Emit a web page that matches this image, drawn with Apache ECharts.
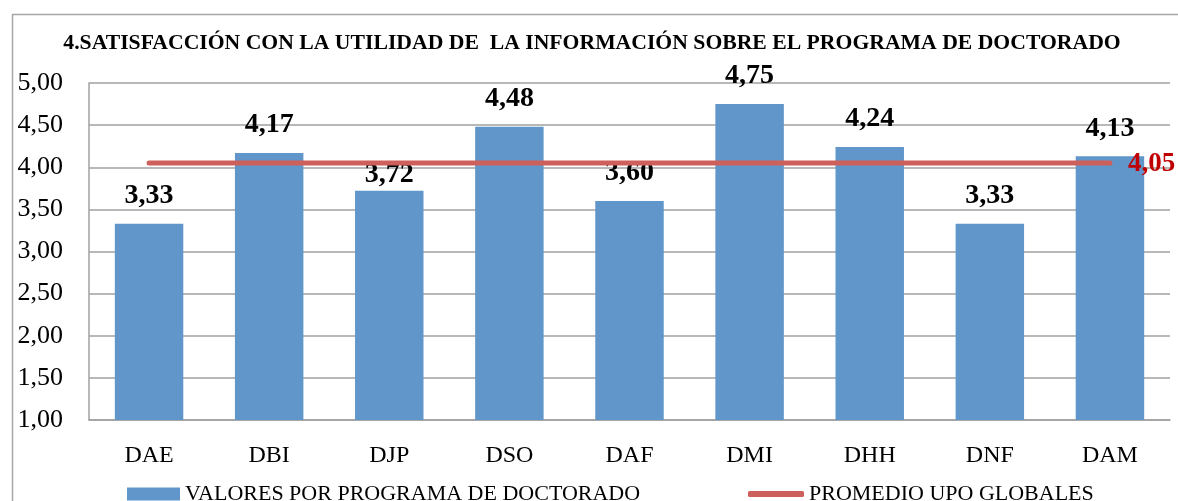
<!DOCTYPE html>
<html><head><meta charset="utf-8">
<script src="https://cdn.jsdelivr.net/npm/echarts@6/dist/echarts.min.js"></script>
<style>html,body{margin:0;padding:0;background:#fff}#c{width:1178px;height:501px}</style>
</head><body><div id="c"></div>
<script>
const categories = ['DAE','DBI','DJP','DSO','DAF','DMI','DHH','DNF','DAM'];
const programValues = [3.33, 4.17, 3.72, 4.48, 3.60, 4.75, 4.24, 3.33, 4.13];
const globalAverage = [4.05, 4.05, 4.05, 4.05, 4.05, 4.05, 4.05, 4.05, 4.05];
const yTicks = {min: 1, max: 5, interval: 0.5};

const fmt = v => v.toFixed(2).replace('.', ',');
const serif = '"Liberation Serif", "DejaVu Serif", serif';
// label of the DJP bar sits closer to the bar (below the average line), as in the original
const barData = programValues.map((v, i) => categories[i] === 'DJP' ? {value: v, label: {distance: 2}} : v);
const chart = echarts.init(document.getElementById('c'), null, {renderer: 'canvas'});
chart.setOption({
  animation: false,
  graphic: [{type: 'rect', left: 10, top: 12, shape: {width: 1200, height: 520}, style: {fill: 'none', stroke: '#a6a6a6', lineWidth: 1.5}, silent: true}],
  title: {text: '4.SATISFACCIÓN CON LA UTILIDAD DE  LA INFORMACIÓN SOBRE EL PROGRAMA DE DOCTORADO', left: 587, textAlign: 'center', top: 27,
    textStyle: {fontFamily: serif, fontWeight: 'bold', fontSize: 21.7, color: '#000'}},
  legend: [
    {top: 478, left: 122, itemWidth: 53, itemHeight: 13, itemGap: 5, textStyle: {fontFamily: serif, fontSize: 22, color: '#000'},
     data: [{name: 'VALORES POR PROGRAMA DE DOCTORADO', icon: 'rect'}]},
    {top: 478, left: 743, itemWidth: 56, itemHeight: 6, itemGap: 5, textStyle: {fontFamily: serif, fontSize: 22, color: '#000'},
     data: [{name: 'PROMEDIO UPO GLOBALES', icon: 'roundRect', itemStyle: {color: '#cd605a'}}]}
  ],
  grid: {left: 89, right: 8, top: 83, bottom: 81},
  xAxis: {type: 'category', data: categories, axisTick: {show: false},
    axisLine: {lineStyle: {color: '#a0a0a0', width: 1.5}},
    axisLabel: {fontFamily: serif, fontSize: 24, color: '#000', margin: 24}},
  yAxis: {type: 'value', min: yTicks.min, max: yTicks.max, interval: yTicks.interval,
    axisLine: {show: true, lineStyle: {color: '#a0a0a0', width: 1.5}}, axisTick: {show: false},
    splitLine: {lineStyle: {color: '#a0a0a0', width: 1.5}},
    axisLabel: {fontFamily: serif, fontSize: 26, color: '#000', margin: 26, formatter: fmt}},
  series: [
    {name: 'VALORES POR PROGRAMA DE DOCTORADO', type: 'bar', data: barData, barCategoryGap: '43%', z: 2,
     itemStyle: {color: '#6096c9'},
     label: {show: true, position: 'top', distance: 14, fontFamily: serif, fontWeight: 'bold', fontSize: 28, color: '#000', formatter: p => fmt(p.value)}},
    {name: 'PROMEDIO UPO GLOBALES', type: 'line', data: globalAverage, symbol: 'none', z: 2,
     lineStyle: {color: '#cd605a', width: 5, cap: 'round'}, itemStyle: {color: '#cd605a'},
     endLabel: {show: true, fontFamily: serif, fontWeight: 'bold', fontSize: 27, color: '#c00000', offset: [10, 1], formatter: p => fmt(p.value)}}
  ]
});
</script></body></html>
